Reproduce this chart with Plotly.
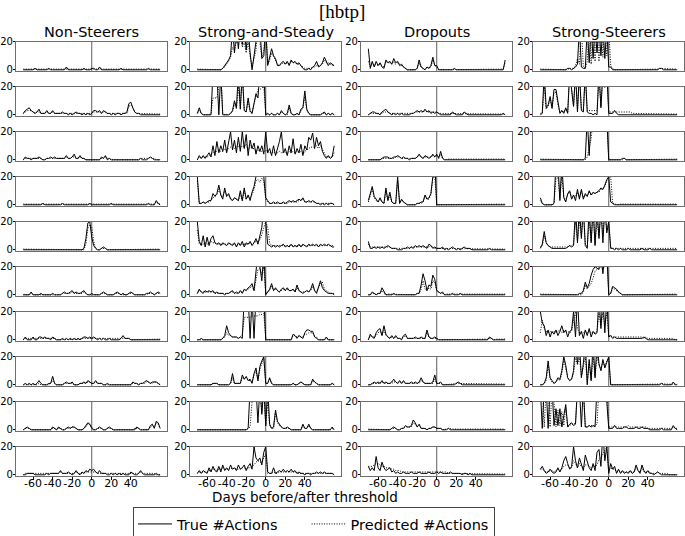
import plotly.graph_objects as go

# ---------------- data ----------------
DAYS = list(range(-70, 71, 2))          # days before/after threshold (71 points)
GROUPS = ["Non-Steerers", "Strong-and-Steady", "Dropouts", "Strong-Steerers"]
SERIES_NAMES = ["True #Actions", "Predicted #Actions"]
X_TICK_VALUES = [-60, -40, -20, 0, 20, 40]
X_TICK_LABELS = ["-60", "-40", "-20", "0", "20", "40"]
Y_TICK_VALUES = [0, 20]
Y_TICK_LABELS = ["0", "20"]

# value codes: '0'-'9' -> 0-9, 'a'-'k' -> 10-20,
# 'z' -> above the top of the axis (30), '.' -> 0.5
NON_STEERERS_TRUE = [
    "0000001000 0001000000 0020000000 0100011002 0000000000 1000000000 00001000000",
    "1345321241 1131131111 2110101211 0101013323 1321101011 0112895211 00000000000",
    "0211011121 0011212111 1131124113 1100000000 2130100000 0000000000 10001210000",
    "0000000000 1000000000 1000000000 0000100000 0000010000 0000000000 00001000310",
    "0000000000 0000000000 0000000000 018jk93100 1210000000 0000000000 00000000000",
    "0000200001 0000010000 1211231211 2310010000 1210000121 0100121000 00011210121",
    "0200020022 1211021000 1010101010 1221212101 0100100000 1311100000 00000000000",
    "0101010131 0001161000 0121120001 1213211311 1001000000 0000002110 11232122210",
    "0121000000 0000021021 0012122100 0135410012 1001210000 0000000021 00000341651",
    "0011110000 0010111113 1112101310 2132434213 1110010101 0100021001 31000000100",
]
NON_STEERERS_PRED = [
    ".......... .......... .......... .......... .......... .......... ...........",
    "1233321221 1121121111 1111111111 1111112222 1221111111 1111675211 ...........",
    "0111111111 0011111111 1121122112 1100000000 1121100000 0000000000 11111211000",
    ".......... .......... .......... .......... .......... .......... ........2..",
    ".......... .......... .......... 004fig6100 1110000000 .......... ...........",
    "0000100000 0000000000 1111121111 1210000000 1110000111 0000111000 00001110111",
    "0111111111 1111111000 .......... 1111111111 .......... 1111100000 ...........",
    "0000000010 0000131000 0111110001 1112211211 1000000000 0000001110 11122112210",
    "0111000000 0000011011 0011122100 0124420011 1001110000 0000000111 00000232541",
    "0111111111 1111111112 1111111211 1122222211 1111111111 1111111111 21111111000",
]
STRONG_STEADY_TRUE = [
    "0000000000 0001357azc zfzizezc0a fzz8az39fa 8335646375 6453100102 36235963543",
    "15100000zz z0z000013a 5z4z32c318 fczkz01010 0103101710 01045h4100 00001201010",
    "03131352a3 d5a6e5ck7e 5g6k8i3e8c 4a6a4k583a 38dk583a5f 485b3a7gej 8gad631312a",
    "k112123386 8e74c68435 43a3c4739d kzkzk53112 1211212323 2343522323 21101010110",
    "k63a2938a5 4535435435 2536254635 849gzk4323 2323423242 3242432434 34243434322",
    "1421323231 2111011231 2131435683 fzkaz02483 5324535334 2732123248 316a5321110",
    "0010000000 00013a5322 2121zkz1z1 zkkkz00000 0000000004 3132157766 21000020000",
    "0000000011 1000000181 1117463418 c3dhk11510 0000000001 0012100004 21000000010",
    "0000000000 0000000000 0000001zzz z5zbz3z412 e642112100 0000411410 00000000020",
    "1313215263 2627353745 374573684k cac7gk2115 1232423242 3121101101 12121211110",
]
STRONG_STEADY_PRED = [
    ".......... 00012469ge kizgkcka28 ezk9ez47c9 7434545465 5443211112 23334755433",
    "13100001cc ckz1000128 4k5z42a218 diijk10010 0102100510 01035d3100 00001101010",
    "0212223456 6766868988 9a8a9b7a88 6766575556 4565564656 5656467899 9a8a7422225",
    "h112122356 7b76a67535 4383a4657b higjh42111 1111111222 2233422222 21111111110",
    "e444545655 4444444444 3444444545 667bgkg533 3333333333 3333333333 33333333333",
    "1322222221 1111111221 1122334563 cijek12363 4323434334 2532223236 32589432111",
    "0000000000 0001253322 2124gggghh hhiij10000 0000000003 3232244555 32000010000",
    "0000000011 1000000151 1115453327 a3bfj11410 0000000001 0012100003 21000000010",
    "0000000000 0000000000 00000012kz zkzdz3k311 c532111100 0000311310 00000000010",
    "1222223344 3445444545 4445545567 9a99cf1112 1122222222 2111111111 11111111110",
]
DROPOUTS_TRUE = [
    "f162635217 5648563421 0000017210 2139330000 0000100000 0000000000 00000000007",
    "0122110234 2101010100 0011232324 2312121000 0002100002 1000000000 00000000010",
    "0000000122 2112232121 1011124213 2124241610 0000000000 0000000000 00000000000",
    "38d642521c 39211k1421 0000011227 458kz00000 0000000000 0000000000 00000000000",
    "6112121212 3211100011 2121323232 1431211120 1012101012 1110000000 00100000000",
    "0021011520 0001000000 00000117fa 376eb32120 0001000100 0000000000 00000000000",
    "04215783a4 2131311034 1111211211 7211210000 0000000000 0000000000 00210000000",
    "0012121312 1124213131 1121212521 1112711200 0000012100 0000000000 00000000000",
    "0000000000 0012100113 2237524111 0112211100 0100000000 0000000000 00000000000",
    "6353d53953 4523121121 1121112111 1211121211 1121111101 1010000000 00000000000",
]
DROPOUTS_PRED = [
    "6253434326 5546454321 0000015210 2127320000 .......... .......... ..........5",
    "0111111122 2111111111 1111222223 2222221111 .......... .......... ...........",
    "0000000111 1111222111 1111123212 2223232410 .......... .......... ...........",
    "27b532421a 37211h1321 0000011126 447jk00000 .......... .......... ...........",
    "4222222222 2211111111 1122222222 2232111111 1111111111 1111...... ...........",
    "0011011310 .......... 00000114a4 354a932110 .......... .......... ...........",
    "0322356373 2121211123 1111111111 5211110000 .......... .......... ..110......",
    "0011111211 1112212121 1111111321 1111411100 ....111... .......... ...........",
    ".......... 0011100112 2225423111 0112211100 .1........ .......... ...........",
    "6667887665 5544333222 2222222222 2222222222 2111111111 1111111111 1111.......",
]
STRONG_STEERERS_TRUE = [
    "0000000000 0000110124 z211z5z8zc zaz8z22000 0000000000 0000000000 01100000000",
    "01z57d5ii8 13151zh6z2 z32z211010 z5zkz11131 0000000000 0000000000 00000000000",
    "0000000000 0000000000 0001z3zzzz zzzzz00000 0011000000 0000000000 00000000000",
    "51000001zz 3z528a473b 4b486a7989 acbeik2100 0000000000 0000000000 00000000000",
    "14d5321111 11112323z5 z8z31z5z3z 8z5zck1101 0100010000 0010001000 00000000000",
    "0000000000 0000000000 113958eikj izfzz01654 2100000000 0000000000 00000000000",
    "kca3726473 6a57267k2z 3617382645 z8z5z23121 1111111111 1112100000 00000000000",
    "0015h53125 4ake534azf z5fz0i3z5z faicgk0000 0000000000 0000000000 00100000200",
    "z1zz1zz3f3 f2ai24534z z2z223232z zkzzk11131 1112211112 1121110000 00100000310",
    "4631242125 25ad846ka5 c83e95383g i6zak18461 4131213127 3173131101 21000000000",
]
STRONG_STEERERS_PRED = [
    ".......... 0000011138 4z216z4z6z 6z9zaz3100 .......... .......... .11........",
    "11k46b4gg7 23242zi6z3 z43z333333 z6zjz22232 2222222111 1111111111 ...........",
    ".......... .......... 000028fzzz zzzzz00000 0001000000 .......... ...........",
    "31000001jk 5k63796569 5a57697889 9bbdhjk110 .......... .......... ...........",
    "23a5322222 22222334k6 kaz42k6z4k azazek2111 1111111111 1111111111 11111111111",
    ".......... .......... 0027468chi jkikz11543 2100000000 .......... ...........",
    "5e86565656 7575656ek8 5556565556 jajaj33222 2222222222 2221211111 11111111100",
    "0013e42124 38ic5348ke k6ek2g3k6k ebhdhj0000 .......... .......... ..1.....1..",
    "kz2zz2zk2e 3d3g23445z kzz2233334 zzkzz22232 2222232222 2222211111 11111111211",
    "4432233234 3467755a85 8657765667 bcfhk35442 3222222225 3252222111 21111100000",
]

TRUE_SERIES = [NON_STEERERS_TRUE, STRONG_STEADY_TRUE, DROPOUTS_TRUE, STRONG_STEERERS_TRUE]
PRED_SERIES = [NON_STEERERS_PRED, STRONG_STEADY_PRED, DROPOUTS_PRED, STRONG_STEERERS_PRED]

CODE = {str(d): float(d) for d in range(10)}
CODE.update({chr(ord("a") + k): 10.0 + k for k in range(11)})
CODE["z"] = 30.0
CODE["."] = 0.5


def decode(s):
    vals = [CODE[ch] for ch in s if ch != " "]
    return (vals + [0.0] * len(DAYS))[: len(DAYS)]


# ---------------- layout geometry (pixels) ----------------
W, H = 685, 536
COL_LEFT = [16, 190, 361, 533]
COL_W = 151
ROW_TOP0, ROW_PITCH, ROW_H = 41.7, 45.0, 29.5
FONT = "DejaVu Sans"
FRAME = "#6e6e6e"
PAD = "\u00a0" * 5   # widens the first legend entry to the reference spacing

fig = go.Figure()
layout = {}
shapes = []
n = 0
for c in range(4):
    for r in range(10):
        n += 1
        xa = "x" if n == 1 else f"x{n}"
        ya = "y" if n == 1 else f"y{n}"
        fig.add_trace(go.Scatter(
            x=DAYS, y=decode(TRUE_SERIES[c][r]), mode="lines",
            line=dict(color="black", width=1.0),
            name=SERIES_NAMES[0] + PAD, legendgroup="true", showlegend=(n == 1),
            xaxis=xa, yaxis=ya, hoverinfo="skip"))
        fig.add_trace(go.Scatter(
            x=DAYS, y=decode(PRED_SERIES[c][r]), mode="lines",
            line=dict(color="black", width=1.0, dash="1px,1.5px"),
            name=SERIES_NAMES[1], legendgroup="pred", showlegend=(n == 1),
            xaxis=xa, yaxis=ya, hoverinfo="skip"))
        x0 = COL_LEFT[c] / W
        x1 = (COL_LEFT[c] + COL_W) / W
        top = ROW_TOP0 + ROW_PITCH * r
        y1 = 1 - top / H
        y0 = 1 - (top + ROW_H) / H
        bottom = (r == 9)
        layout["xaxis" if n == 1 else f"xaxis{n}"] = dict(
            domain=[x0, x1], anchor=ya, range=[-77.5, 77],
            tickvals=X_TICK_VALUES, ticktext=X_TICK_LABELS, tickangle=0,
            showticklabels=bottom, ticks="outside" if bottom else "",
            ticklen=3, tickcolor="black", tickwidth=0.8,
            ticklabelstandoff=-7,
            tickfont=dict(family=FONT, size=11, color="black"),
            showline=True, mirror=True, linecolor=FRAME, linewidth=1.2,
            showgrid=False, zeroline=False, automargin=False)
        layout["yaxis" if n == 1 else f"yaxis{n}"] = dict(
            domain=[y0, y1], anchor=xa, range=[-1, 20],
            tickvals=Y_TICK_VALUES, ticktext=Y_TICK_LABELS,
            ticks="outside", ticklen=2, tickcolor="black", tickwidth=0.8,
            ticklabelstandoff=-2,
            tickfont=dict(family=FONT, size=10, color="black"),
            showline=True, mirror=True, linecolor=FRAME, linewidth=1.2,
            showgrid=False, zeroline=False, automargin=False)
        shapes.append(dict(type="line", xref=xa, yref=f"{ya} domain",
                           x0=0, x1=0, y0=0, y1=1,
                           line=dict(color="#333", width=0.8), layer="below"))

annotations = [
    dict(text="[hbtp]", x=342 / W, y=1 - 12 / H, xref="paper", yref="paper",
         showarrow=False, xanchor="center", yanchor="middle",
         font=dict(family="Liberation Serif", size=19, color="black")),
    dict(text="Days before/after threshold", x=305 / W, y=1 - 497 / H,
         xref="paper", yref="paper", showarrow=False,
         xanchor="center", yanchor="middle",
         font=dict(family=FONT, size=13.5, color="black")),
]
for c, g in enumerate(GROUPS):
    annotations.append(dict(
        text=g, x=(COL_LEFT[c] + COL_W / 2) / W, y=1 - 32 / H,
        xref="paper", yref="paper", showarrow=False,
        xanchor="center", yanchor="middle",
        font=dict(family=FONT, size=14.5, color="black")))

fig.update_layout(
    width=W, height=H, margin=dict(l=0, r=0, t=0, b=0, autoexpand=False),
    paper_bgcolor="white", plot_bgcolor="white",
    showlegend=True,
    legend=dict(orientation="h", x=133 / W, y=1 - 507 / H,
                xanchor="left", yanchor="top",
                bordercolor="#444", borderwidth=1, bgcolor="white",
                font=dict(family=FONT, size=14.5, color="black"),
                itemwidth=34),
    shapes=shapes, annotations=annotations,
    **layout,
)

fig.write_html("out.html", config={"displayModeBar": False},
               post_script="document.body.style.margin='0px';")
